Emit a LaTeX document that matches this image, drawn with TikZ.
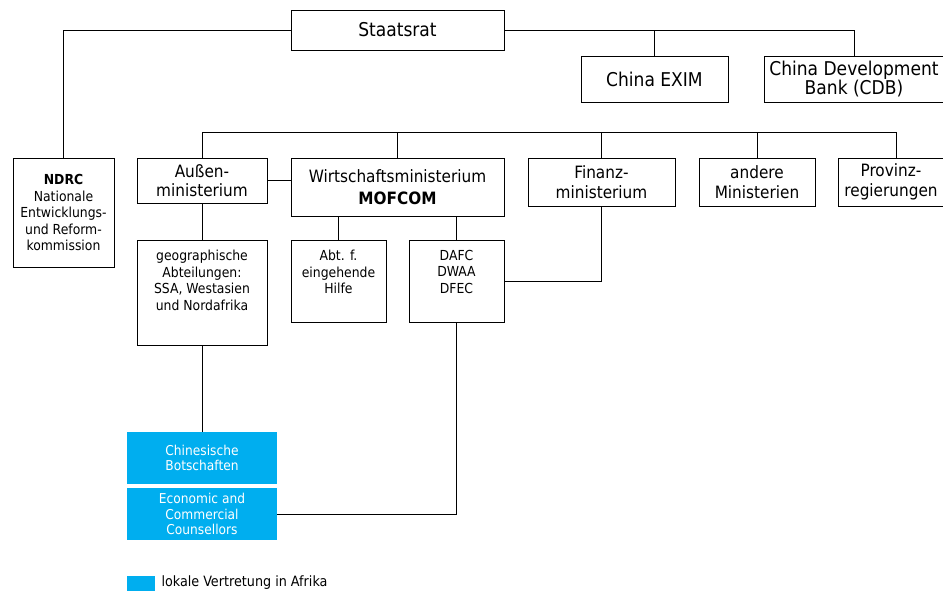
\documentclass[tikz,border=0pt]{standalone}
\usepackage{fontspec}
\setmainfont{DejaVu Sans Condensed}
\usetikzlibrary{positioning}
\definecolor{vblue}{HTML}{00AEEF}
\begin{document}
\begin{tikzpicture}[x=1pt,y=-1pt,
  box/.style={draw=black, line width=0.8pt, fill=white, rectangle, inner sep=0pt, align=center},
  big/.style={font=\fontsize{19}{22}\selectfont},
  mid/.style={font=\fontsize{17}{19.5}\selectfont},
  small/.style={font=\fontsize{13.8}{16.5}\selectfont},
  blue/.style={fill=vblue, draw=none, rectangle, inner sep=0pt, align=center, text=white, font=\fontsize{13.6}{15.5}\selectfont},
  conn/.style={draw=black, line width=0.8pt}]
\useasboundingbox (0,0) rectangle (943,592);
\node[box,big,minimum width=213,minimum height=40] (staat) at (397.5,30) {Staatsrat};
\node[box,big,minimum width=147,minimum height=46] (exim) at (654.5,79) {China EXIM};
\node[box,big,minimum width=180,minimum height=46] (cdb) at (854,79) {China Development\\[-3pt]Bank (CDB)};
\node[box,small,minimum width=101,minimum height=109] (ndrc) at (63.5,212.5) {\textbf{NDRC}\\Nationale\\Entwicklungs-\\und Reform-\\kommission};
\node[box,mid,minimum width=130,minimum height=45] (aussen) at (202,180.5) {Außen-\\ministerium};
\node[box,mid,minimum width=213,minimum height=58] (wirt) at (397.5,187) {Wirtschaftsministerium\\[2pt]\textbf{MOFCOM}};
\node[box,mid,minimum width=147,minimum height=48] (finanz) at (601.5,182) {Finanz-\\ministerium};
\node[box,mid,minimum width=116,minimum height=48] (andere) at (757,182) {andere\\Ministerien};
\node[box,mid,minimum width=106,minimum height=48] (prov) at (891,182) {Provinz-\\regierungen};
\node[box,minimum width=130,minimum height=105] (geo) at (202,292.5) {};
\node[small,anchor=north,align=center] (geoT) at ([yshift=-7]geo.north) {geographische\\Abteilungen:\\SSA, Westasien\\und Nordafrika};
\node[box,minimum width=95,minimum height=82] (abt) at (338.5,281) {};
\node[small,anchor=north,align=center] (abtT) at ([yshift=-7]abt.north) {Abt. f.\\eingehende\\Hilfe};
\node[box,minimum width=95,minimum height=82] (dafc) at (456.5,281) {};
\node[small,anchor=north,align=center] (dafcT) at ([yshift=-7]dafc.north) {DAFC\\DWAA\\DFEC};
\node[blue,minimum width=150,minimum height=52] (bot) at (202,458) {Chinesische\\Botschaften};
\node[blue,minimum width=150,minimum height=52] (ecc) at (202,514) {Economic and\\Commercial\\Counsellors};
\node[blue,minimum width=28,minimum height=15] (leg) at (141,583.5) {};
\node[anchor=west,font=\fontsize{14.2}{16}\selectfont] (legT) at (158,583) {lokale Vertretung in Afrika};
% connectors
\coordinate (bl) at (203,132);
\coordinate (br) at (896,132);
\draw[conn] (staat.west) -| (ndrc.north);
\draw[conn] (staat.east) -| (cdb.north);
\draw[conn] (exim.north) -- (exim.north |- staat.east);
\draw[conn] (bl) -- (br);
\draw[conn] (aussen.north) -- (aussen.north |- bl);
\draw[conn] (wirt.north) -- (wirt.north |- bl);
\draw[conn] (finanz.north) -- (finanz.north |- bl);
\draw[conn] (andere.north) -- (andere.north |- bl);
\draw[conn] (br) -- (br |- prov.north);
\draw[conn] (aussen.east) -- (aussen.east -| wirt.west);
\draw[conn] (aussen.south) -- (geo.north);
\draw[conn] (abt.north) -- (abt.north |- wirt.south);
\draw[conn] (dafc.north) -- (dafc.north |- wirt.south);
\draw[conn] (finanz.south) |- (dafc.east);
\draw[conn] (geo.south) -- (bot.north);
\draw[conn] (dafc.south) |- (ecc.east);
\end{tikzpicture}
\end{document}
